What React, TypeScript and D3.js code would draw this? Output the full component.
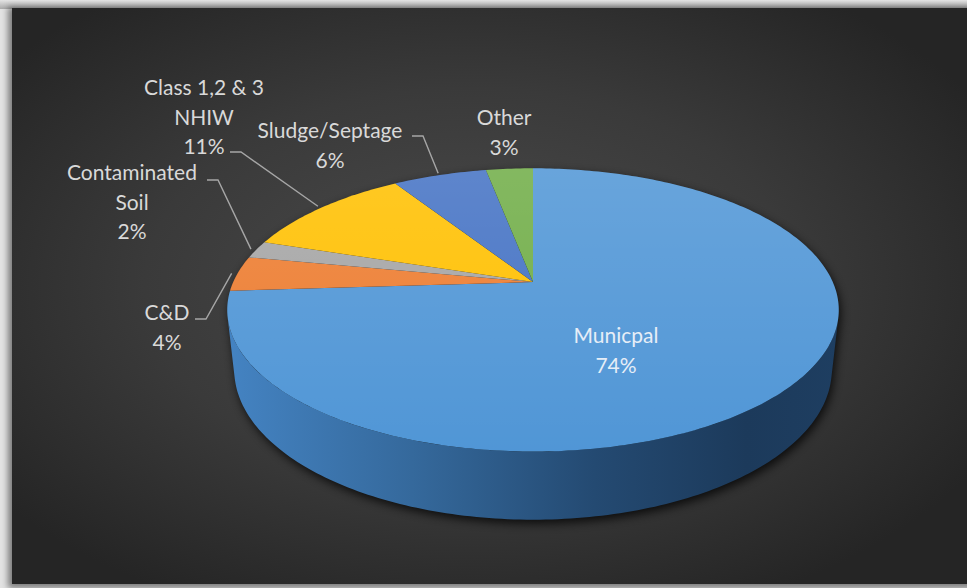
import React from 'react';
import { pie, line } from 'd3';

// chart values
const categories = ['Municpal', 'C&D', 'Contaminated Soil', 'Class 1,2 & 3 NHIW', 'Sludge/Septage', 'Other'];
const shares = [74, 4, 2, 11, 6, 3];
const labelLines = [['Municpal'], ['C&D'], ['Contaminated', 'Soil'], ['Class 1,2 & 3', 'NHIW'], ['Sludge/Septage'], ['Other']];
const colors = ['#5096d6', '#ed7d31', '#a5a5a5', '#ffc000', '#4472c4', '#70ad47'];

// label layout: centre x, first baseline, leader start (null = no leader)
const labelLayout: { x: number; y: number; leader: [number, number] | null }[] = [
  { x: 616, y: 343, leader: null },
  { x: 167, y: 320, leader: [195, 319] },
  { x: 132, y: 180, leader: [207, 180] },
  { x: 204, y: 95, leader: [230, 152] },
  { x: 330, y: 138, leader: [412, 136] },
  { x: 504, y: 125, leader: null },
];

const width = 967;
const height = 588;
const lineH = 29.5;

// 3D perspective setup
const cx = 533;
const cy = 282;
const tilt = (27 * Math.PI) / 180;
const sn = Math.sin(tilt);
const cs = Math.cos(tilt);
const dist = 4.52;
const focal = 1355;
const thick = 0.225;

const project = (theta: number, r: number, level: number): [number, number] => {
  const x = r * Math.sin(theta);
  const z = -r * Math.cos(theta);
  const sy = z * sn - level * cs;
  const depth = dist - z * cs - level * sn;
  return [cx + (focal * x) / depth, cy + (focal * sy) / depth];
};

const steps = (a: number, b: number) => {
  const n = Math.max(2, Math.ceil(((b - a) * 180) / Math.PI));
  return Array.from({ length: n + 1 }, (_, i) => a + ((b - a) * i) / n);
};

const toPath = line<[number, number]>();

// visible side range of the cylinder
const silhouette = Math.acos(-1 / (dist * cs));
const sideFrom = silhouette;
const sideTo = 2 * Math.PI - silhouette;

function App() {
  const arcs = pie<number>().sort(null).value((d) => d)(shares);

  const topFace = (a: number, b: number) => {
    const pts: [number, number][] = [project(0, 0, 0), ...steps(a, b).map((t) => project(t, 1, 0))];
    return toPath(pts) + 'Z';
  };

  const sideFace = (a: number, b: number) => {
    const lo = Math.max(a, sideFrom);
    const hi = Math.min(b, sideTo);
    if (hi <= lo) return null;
    const ts = steps(lo, hi);
    const pts: [number, number][] = [
      ...ts.map((t) => project(t, 1, 0)),
      ...ts.slice().reverse().map((t) => project(t, 1, -thick)),
    ];
    return toPath(pts) + 'Z';
  };

  const shadowPath = (() => {
    const ts = steps(sideFrom, sideTo);
    const pts: [number, number][] = [
      ...ts.map((t) => project(t, 1, -thick)),
      ...steps(sideTo, sideFrom + 2 * Math.PI).map((t) => project(t, 1, 0)),
    ];
    return toPath(pts) + 'Z';
  })();

  return (
    <svg width={width} height={height} style={{ position: 'absolute', left: 0, top: 0 }}>
      <defs>
        <radialGradient id="bg" cx="48%" cy="48%" r="62%">
          <stop offset="0%" stopColor="#4b4b4b" />
          <stop offset="55%" stopColor="#3a3a3a" />
          <stop offset="100%" stopColor="#252525" />
        </radialGradient>
        <linearGradient id="frameTop" x1="0" y1="0" x2="0" y2="1">
          <stop offset="0%" stopColor="#e4e4e4" />
          <stop offset="100%" stopColor="#a9a9a9" />
        </linearGradient>
        <linearGradient id="side" gradientUnits="userSpaceOnUse" x1="229" y1="0" x2="838" y2="0">
          <stop offset="0%" stopColor="#4483c2" />
          <stop offset="30%" stopColor="#35699c" />
          <stop offset="60%" stopColor="#244a72" />
          <stop offset="85%" stopColor="#1c3a5b" />
          <stop offset="100%" stopColor="#1e3e61" />
        </linearGradient>
        <linearGradient id="sheen" gradientUnits="userSpaceOnUse" x1="0" y1="165" x2="0" y2="455">
          <stop offset="0%" stopColor="#ffffff" stopOpacity="0.14" />
          <stop offset="100%" stopColor="#ffffff" stopOpacity="0" />
        </linearGradient>
        <filter id="blur6" x="-20%" y="-20%" width="140%" height="140%">
          <feGaussianBlur stdDeviation="5" />
        </filter>
        <filter id="blur3" x="-10%" y="-10%" width="120%" height="120%">
          <feGaussianBlur stdDeviation="3" />
        </filter>
      </defs>

      {/* frame */}
      <rect x={0} y={0} width={width} height={height} fill="#e2e2e2" />
      <rect x={0} y={0} width={width} height={9} fill="url(#frameTop)" />
      <rect x={8} y={7} width={width} height={height - 7} fill="#000" opacity={0.45} filter="url(#blur3)" />
      <rect x={12} y={8} width={width - 12} height={576} fill="url(#bg)" />

      {/* pie shadow */}
      <path d={shadowPath} fill="#000" opacity={0.75} transform="translate(2,4)" filter="url(#blur6)" />

      {/* side walls */}
      {arcs.map((a, i) => {
        const d = sideFace(a.startAngle, a.endAngle);
        return d ? <path key={'s' + i} d={d} fill={i === 0 ? 'url(#side)' : colors[i]} /> : null;
      })}

      {/* top faces */}
      {arcs.map((a, i) => (
        <g key={'t' + i}>
          <path d={topFace(a.startAngle, a.endAngle)} fill={colors[i]} />
          <path d={topFace(a.startAngle, a.endAngle)} fill="url(#sheen)" />
        </g>
      ))}

      {/* leader lines */}
      {arcs.map((a, i) => {
        const lay = labelLayout[i];
        if (!lay.leader) return null;
        const mid = (a.startAngle + a.endAngle) / 2;
        const end = project(mid, 1.02, 0);
        const [lx, ly] = lay.leader;
        const pts: [number, number][] = [[lx, ly], [lx + 11, ly], end];
        return <path key={'l' + i} d={toPath(pts) || ''} fill="none" stroke="#a6a6a6" strokeWidth={1.4} />;
      })}

      {/* labels */}
      {arcs.map((a, i) => {
        const lay = labelLayout[i];
        const lines = [...labelLines[i], `${shares[i]}%`];
        return (
          <text
            key={'x' + i}
            x={lay.x}
            y={lay.y}
            textAnchor="middle"
            fontFamily="Lato, 'Open Sans', sans-serif"
            fontSize={21}
            fill={i === 0 ? '#e6eef7' : '#d9d9d9'}
          >
            {lines.map((t, k) => (
              <tspan key={k} x={lay.x} dy={k === 0 ? 0 : lineH}>
                {t}
              </tspan>
            ))}
          </text>
        );
      })}
    </svg>
  );
}

export default App;
